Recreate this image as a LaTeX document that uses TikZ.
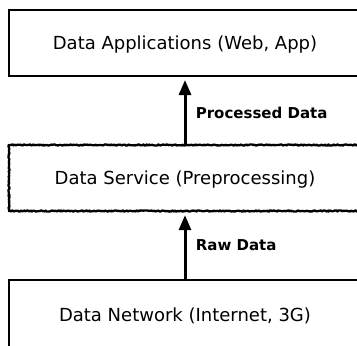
\documentclass[tikz,border=0pt]{standalone}
\usepackage{fontspec}
\setmainfont{DejaVu Sans}
\usetikzlibrary{arrows.meta,decorations.pathmorphing}
\begin{document}
\begin{tikzpicture}[x=1pt,y=-1pt,
  layerbox/.style={draw=black,line width=2pt,rectangle,minimum width=352pt,inner sep=0pt,text depth=1pt,font=\fontsize{18}{21}\selectfont},
  roughbox/.style={layerbox,line width=2.3pt,line join=round,line cap=round,decorate,decoration={random steps,segment length=1pt,amplitude=0.6pt}},
  flow/.style={line width=3pt,-{Triangle[width=12pt,length=15pt]},shorten >=3pt},
  flowlabel/.style={font=\bfseries\fontsize{15}{18}\selectfont,right,xshift=6pt}]
\useasboundingbox (0,0) rectangle (357,346);
\clip (0,0) rectangle (357,346);
\fill[white] (0,0) rectangle (357,346);
\node[layerbox,minimum height=66pt] (app) at (185,43) {Data Applications (Web, App)};
\node[roughbox,minimum height=66pt] (svc) at (185,178) {Data Service (Preprocessing)};
\node[layerbox,minimum height=70pt] (net) at (185,315) {Data Network (Internet, 3G)};
\draw[flow] (svc.north) -- node[flowlabel,pos=0.47] {Processed Data} (app.south);
\draw[flow] (net.north) -- node[flowlabel,pos=0.5] {Raw Data} (svc.south);
\end{tikzpicture}
\end{document}
